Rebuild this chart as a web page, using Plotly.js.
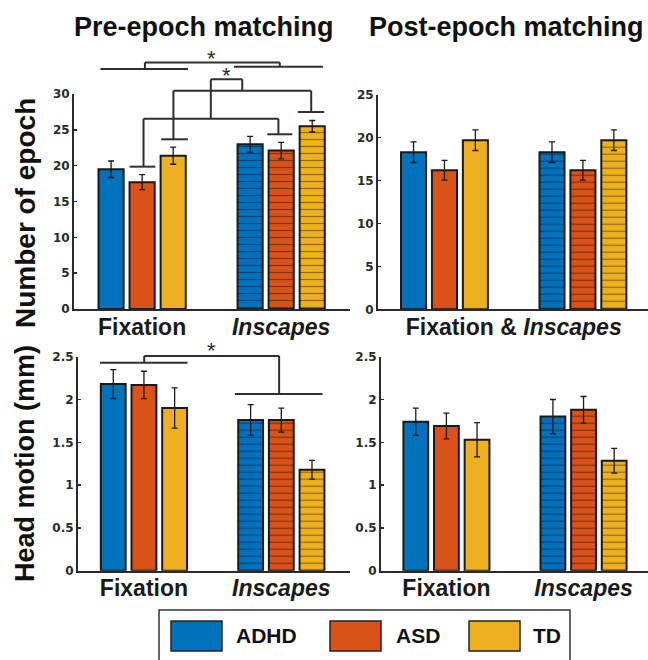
<!DOCTYPE html>
<html><head><meta charset="utf-8">
<script src="https://cdn.plot.ly/plotly-3.0.1.min.js"></script>
<style>html,body{margin:0;padding:0;background:#fff}</style>
</head><body><div id="chart" style="width:648px;height:660px"></div>
<script>
// ---------------- data ----------------
const categories = ['Fixation', 'Inscapes'];
const groups = ['ADHD', 'ASD', 'TD'];
const colors = ['#0072BD', '#D95319', '#EDB120'];

// Number of epoch – pre-epoch matching
const preEpochFix    = [19.5, 17.7, 21.4];
const preEpochFixErr = [1.15, 1.05, 1.2];
const preEpochIns    = [23.0, 22.1, 25.5];
const preEpochInsErr = [1.1, 1.15, 0.8];
// Number of epoch – post-epoch matching
const postEpochFix    = [18.3, 16.2, 19.7];
const postEpochFixErr = [1.2, 1.15, 1.2];
const postEpochIns    = [18.3, 16.2, 19.7];
const postEpochInsErr = [1.2, 1.15, 1.2];
// Head motion (mm) – pre-epoch matching
const preMotionFix    = [2.18, 2.17, 1.90];
const preMotionFixErr = [0.17, 0.16, 0.235];
const preMotionIns    = [1.76, 1.76, 1.18];
const preMotionInsErr = [0.18, 0.14, 0.11];
// Head motion (mm) – post-epoch matching
const postMotionFix    = [1.74, 1.69, 1.53];
const postMotionFixErr = [0.16, 0.15, 0.2];
const postMotionIns    = [1.80, 1.88, 1.285];
const postMotionInsErr = [0.2, 0.155, 0.145];

// ---------------- layout helpers ----------------
const W = 648, H = 660;
const px = v => v / W;
const py = v => 1 - v / H;
const SANS = '"Liberation Sans", Arial, sans-serif';
const TICKF = {family: '"DejaVu Sans", sans-serif', size: 12, color: '#2a2a2a', weight: 'bold'};

const panels = [
  {xa:'x',  ya:'y',  xd:[74,350],  yd:[94,309],    xr:[-0.49,1.495], yr:[0,30],  dt:5,
   fix:preEpochFix, fixE:preEpochFixErr, ins:preEpochIns, insE:preEpochInsErr,
   tv:[0,1], tt:[categories[0], '<i>'+categories[1]+'</i>']},
  {xa:'x2', ya:'y2', xd:[378,648], yd:[94.7,309.3], xr:[-0.48,1.47], yr:[0,25],  dt:5,
   fix:postEpochFix, fixE:postEpochFixErr, ins:postEpochIns, insE:postEpochInsErr,
   tv:[0.5], tt:[categories[0] + ' &amp; <i>' + categories[1] + '</i>']},
  {xa:'x3', ya:'y3', xd:[78,350],  yd:[356.7,570.7], xr:[-0.48,1.50], yr:[0,2.5], dt:0.5,
   fix:preMotionFix, fixE:preMotionFixErr, ins:preMotionIns, insE:preMotionInsErr,
   tv:[0,1], tt:[categories[0], '<i>'+categories[1]+'</i>']},
  {xa:'x4', ya:'y4', xd:[381,648], yd:[356.7,570.7], xr:[-0.477,1.47], yr:[0,2.5], dt:0.5,
   fix:postMotionFix, fixE:postMotionFixErr, ins:postMotionIns, insE:postMotionInsErr,
   tv:[0,1], tt:[categories[0], '<i>'+categories[1]+'</i>']}
];

const traces = [];
const layout = {
  width: W, height: H,
  margin: {l:0, r:0, t:0, b:0},
  paper_bgcolor: '#fff', plot_bgcolor: 'rgba(0,0,0,0)',
  barmode: 'group', bargap: 0.33, bargroupgap: 0.19,
  showlegend: false,
  shapes: [], annotations: []
};

panels.forEach((p, pi) => {
  groups.forEach((g, gi) => {
    traces.push({
      type: 'bar', name: g,
      x: categories.map((c, ci) => ci),
      y: [p.fix[gi], p.ins[gi]],
      xaxis: p.xa, yaxis: p.ya,
      error_y: {type:'data', array:[p.fixE[gi], p.insE[gi]], color:'#1a1a1a', thickness:1.3, width:3},
      marker: {
        color: colors[gi],
        line: {color:'#1a1a1a', width:2},
        pattern: {shape:['', '-'], fillmode:'overlay', size:7, solidity:0.17, fgcolor:'#000000', fgopacity:0.4}
      },
      showlegend: false, hoverinfo: 'skip'
    });
  });
  const xk = p.xa === 'x' ? 'xaxis' : 'xaxis' + p.xa.slice(1);
  const yk = p.ya === 'y' ? 'yaxis' : 'yaxis' + p.ya.slice(1);
  layout[xk] = {
    domain: [px(p.xd[0]), px(p.xd[1])], range: p.xr, anchor: p.ya,
    showline: true, linecolor: '#2a2a2a', linewidth: 2, showgrid: false, zeroline: false,
    ticks: '', tickmode: 'array', tickvals: p.tv, ticktext: p.tt, ticklabelstandoff: -4,
    tickfont: {family: SANS, size: 23, color: '#1a1a1a', weight: 'bold'},
    fixedrange: true
  };
  layout[yk] = {
    domain: [py(p.yd[1]), py(p.yd[0])], range: p.yr, anchor: p.xa, dtick: p.dt, tick0: 0,
    showline: true, linecolor: '#2a2a2a', linewidth: 2, showgrid: false, zeroline: false,
    ticks: 'inside', ticklen: 3, tickwidth: 1.5, tickcolor: '#2a2a2a',
    tickfont: TICKF, fixedrange: true
  };
});

// significance brackets (data units of each panel)
function seg(pi, x0, y0, x1, y1) {
  const p = panels[pi];
  const fx = v => (v - p.xr[0]) / (p.xr[1] - p.xr[0]);
  const fy = v => (v - p.yr[0]) / (p.yr[1] - p.yr[0]);
  layout.shapes.push({type:'line', xref: p.xa + ' domain', yref: p.ya + ' domain',
    x0: fx(x0), y0: fy(y0), x1: fx(x1), y1: fy(y1), line: {color:'#2f2f2f', width:2}});
}
function star(pi, x, y) {
  const p = panels[pi];
  layout.annotations.push({xref: p.xa + ' domain', yref: p.ya + ' domain',
    x: (x - p.xr[0]) / (p.xr[1] - p.xr[0]), y: (y - p.yr[0]) / (p.yr[1] - p.yr[0]),
    text: '*', showarrow: false, xanchor: 'center', yanchor: 'middle', yshift: -3,
    font: {family: SANS, size: 22, color: '#2a2a2a'}});
}
// top-left: condition main effect
seg(0, -0.30, 33.5, 0.33, 33.5);
seg(0, 0.66, 33.8, 1.30, 33.8);
seg(0, 0.02, 33.5, 0.02, 34.4);
seg(0, 0.02, 34.4, 0.99, 34.4);
seg(0, 0.99, 34.4, 0.99, 33.8);
star(0, 0.50, 35.4);
// top-left: ASD and TD comparisons
seg(0, 0.494, 26.55, 0.494, 32.05);
seg(0, 0.494, 32.05, 0.72, 32.05);
seg(0, 0.72, 32.05, 0.72, 30.46);
star(0, 0.61, 33.0);
seg(0, 0.01, 26.55, 0.98, 26.55);
seg(0, 0.01, 26.55, 0.01, 19.86);
seg(0, -0.09, 19.86, 0.095, 19.86);
seg(0, 0.98, 26.55, 0.98, 24.38);
seg(0, 0.90, 24.38, 1.08, 24.38);
seg(0, 0.225, 30.46, 1.216, 30.46);
seg(0, 0.225, 30.46, 0.225, 23.68);
seg(0, 0.137, 23.68, 0.329, 23.68);
seg(0, 1.216, 30.46, 1.216, 27.49);
seg(0, 1.12, 27.49, 1.31, 27.49);
// bottom-left
seg(2, -0.32, 2.43, 0.318, 2.43);
seg(2, 0.662, 2.064, 1.30, 2.064);
seg(2, 0.002, 2.43, 0.002, 2.508);
seg(2, 0.002, 2.508, 0.984, 2.508);
seg(2, 0.984, 2.508, 0.984, 2.064);
star(2, 0.49, 2.61);

// titles
layout.annotations.push(
  {xref:'paper', yref:'paper', x: px(204), y: py(27), text:'Pre-epoch matching', showarrow:false,
   xanchor:'center', yanchor:'middle', font:{family:SANS, size:27, color:'#111', weight:'bold'}},
  {xref:'paper', yref:'paper', x: px(506), y: py(27), text:'Post-epoch matching', showarrow:false,
   xanchor:'center', yanchor:'middle', font:{family:SANS, size:27, color:'#111', weight:'bold'}},
  {xref:'paper', yref:'paper', x: px(25), y: py(213), text:'Number of epoch', showarrow:false, textangle:-90,
   xanchor:'center', yanchor:'middle', font:{family:SANS, size:28, color:'#111', weight:'bold'}},
  {xref:'paper', yref:'paper', x: px(25), y: py(464), text:'Head motion (mm)', showarrow:false, textangle:-90,
   xanchor:'center', yanchor:'middle', font:{family:SANS, size:27, color:'#111', weight:'bold'}}
);

// legend (drawn)
layout.shapes.push({type:'rect', xref:'paper', yref:'paper', x0:px(159), x1:px(570), y0:py(664), y1:py(610),
  line:{color:'#333', width:1.5}, fillcolor:'rgba(0,0,0,0)'});
const swX = [171, 330, 469];
const txX = [234, 394, 531];
groups.forEach((g, gi) => {
  layout.shapes.push({type:'rect', xref:'paper', yref:'paper', x0:px(swX[gi]), x1:px(swX[gi]+51),
    y0:py(651), y1:py(621), fillcolor: colors[gi], line:{color:'#222', width:1.5}});
  layout.annotations.push({xref:'paper', yref:'paper', x:px(txX[gi]), y:py(635), text:g, showarrow:false,
    xanchor:'left', yanchor:'middle', font:{family:SANS, size:21, color:'#111', weight:'bold'}});
});

Plotly.newPlot('chart', traces, layout, {displayModeBar:false, staticPlot:true});
</script></body></html>
